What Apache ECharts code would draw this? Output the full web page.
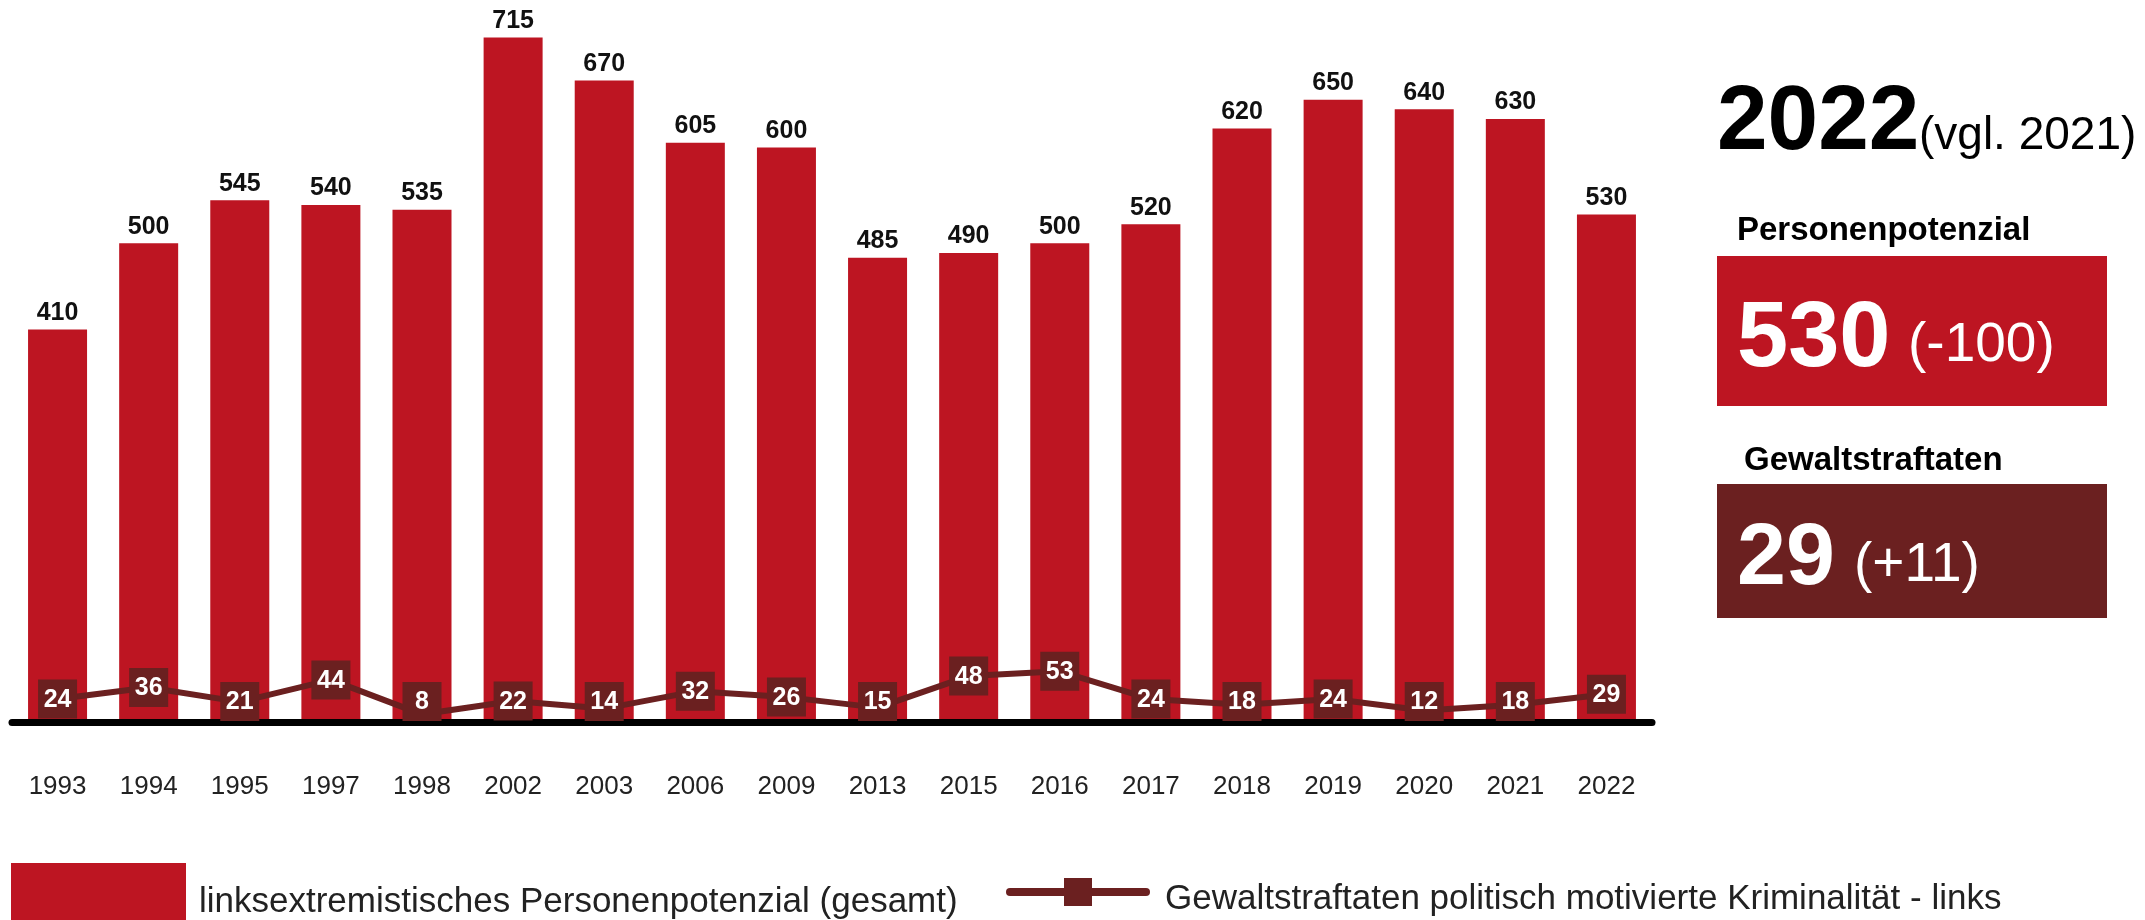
<!DOCTYPE html>
<html>
<head>
<meta charset="UTF-8">
<title>Linksextremismus</title>
<script src="https://cdn.jsdelivr.net/npm/echarts@6/dist/echarts.min.js"></script>
<style>
  html, body { margin: 0; padding: 0; background: #fff; }
  #chart { width: 2145px; height: 920px; }
</style>
</head>
<body>
<div id="chart"></div>
<script type="text/javascript">
    var years = ['1993', '1994', '1995', '1997', '1998', '2002', '2003', '2006', '2009',
        '2013', '2015', '2016', '2017', '2018', '2019', '2020', '2021', '2022'];
    var personen = [410, 500, 545, 540, 535, 715, 670, 605, 600, 485, 490, 500, 520, 620, 650, 640, 630, 530];
    var gewalt = [24, 36, 21, 44, 8, 22, 14, 32, 26, 15, 48, 53, 24, 18, 24, 12, 18, 29];

    var nameBar = 'linksextremistisches Personenpotenzial (gesamt)';
    var nameLine = 'Gewaltstraftaten politisch motivierte Kriminalität - links';

    var red = '#BD1522';
    var brown = '#6B2020';
    var font = '"Liberation Sans", Arial, sans-serif';

    var myChart = echarts.init(document.getElementById('chart'));

    // Wertekästchen der Linie: sitzen auf dem Punkt, rutschen aber nie unter die Achse
    function renderBox(params, api) {
        var p = api.coord([api.value(0), api.value(1)]);
        var base = api.coord([api.value(0), 0]);
        var w = 39, h = 39;
        var cy = Math.min(p[1], base[1] - h / 2 - 1);
        return {
            type: 'group',
            children: [
                { type: 'rect', shape: { x: p[0] - w / 2, y: cy - h / 2, width: w, height: h }, style: { fill: brown } },
                { type: 'text', style: { text: String(api.value(1)), x: p[0], y: cy + 1, align: 'center', verticalAlign: 'middle',
                    font: 'bold 25px ' + font, fill: '#fff' } }
            ]
        };
    }

    var option = {
        animation: false,
        textStyle: { fontFamily: font },
        grid: { left: 12, right: 493, top: 4, bottom: 198 },
        xAxis: {
            type: 'category',
            data: years,
            z: 3,
            axisTick: { show: false },
            axisLine: { lineStyle: { color: '#000', width: 7 } },
            axisLabel: { fontSize: 26, color: '#222', margin: 52, fontFamily: font }
        },
        yAxis: {
            type: 'value',
            min: 0,
            max: 750,
            show: false,
            splitLine: { show: false }
        },
        legend: [
            {
                data: [{ name: nameBar, icon: 'rect' }],
                left: 6,
                top: 858,
                itemWidth: 175,
                itemHeight: 78,
                selectedMode: false,
                textStyle: { fontSize: 35, color: '#222', fontFamily: font, padding: [0, 0, 0, 8] }
            },
            {
                data: [nameLine],
                left: 1001,
                top: 873,
                itemWidth: 136,
                itemHeight: 35,
                selectedMode: false,
                lineStyle: { width: 8, cap: 'round' },
                formatter: '{t|{name}}',
                textStyle: {
                    fontSize: 35, color: '#222', fontFamily: font,
                    rich: { t: { fontSize: 35, color: '#222', fontFamily: font, padding: [14, 0, 0, 14] } }
                }
            }
        ],
        series: [
            {
                name: nameBar,
                type: 'bar',
                data: personen,
                barWidth: 59,
                itemStyle: { color: red },
                label: {
                    show: true,
                    position: 'top',
                    distance: 4,
                    fontSize: 25,
                    fontWeight: 'bold',
                    color: '#111',
                    fontFamily: font
                }
            },
            {
                name: nameLine,
                type: 'line',
                data: gewalt,
                z: 4,
                symbol: 'rect',
                showSymbol: false,
                lineStyle: { color: brown, width: 6 },
                itemStyle: { color: brown }
            },
            {
                name: 'boxes',
                type: 'custom',
                z: 5,
                data: gewalt.map(function (v, i) { return [i, v]; }),
                renderItem: renderBox
            }
        ],
        graphic: [
            { type: 'text', left: 1717, top: 78, style: { text: '2022', font: 'bold 91px ' + font, fill: '#000' } },
            { type: 'text', left: 1919, top: 113, style: { text: '(vgl. 2021)', font: '46px ' + font, fill: '#000' } },
            { type: 'text', left: 1737, top: 214, style: { text: 'Personenpotenzial', font: 'bold 33px ' + font, fill: '#000' } },
            { type: 'rect', left: 1717, top: 256, shape: { width: 390, height: 150 }, style: { fill: red } },
            { type: 'text', left: 1737, top: 295, style: { text: '530', font: 'bold 92px ' + font, fill: '#fff' } },
            { type: 'text', left: 1908, top: 318, style: { text: '(-100)', font: '55px ' + font, fill: '#fff' } },
            { type: 'text', left: 1744, top: 444, style: { text: 'Gewaltstraftaten', font: 'bold 33px ' + font, fill: '#000' } },
            { type: 'rect', left: 1717, top: 484, shape: { width: 390, height: 134 }, style: { fill: brown } },
            { type: 'text', left: 1737, top: 516, style: { text: '29', font: 'bold 88px ' + font, fill: '#fff' } },
            { type: 'text', left: 1854, top: 538, style: { text: '(+11)', font: '55px ' + font, fill: '#fff' } }
        ]
    };

    myChart.setOption(option);
</script>
</body>
</html>
